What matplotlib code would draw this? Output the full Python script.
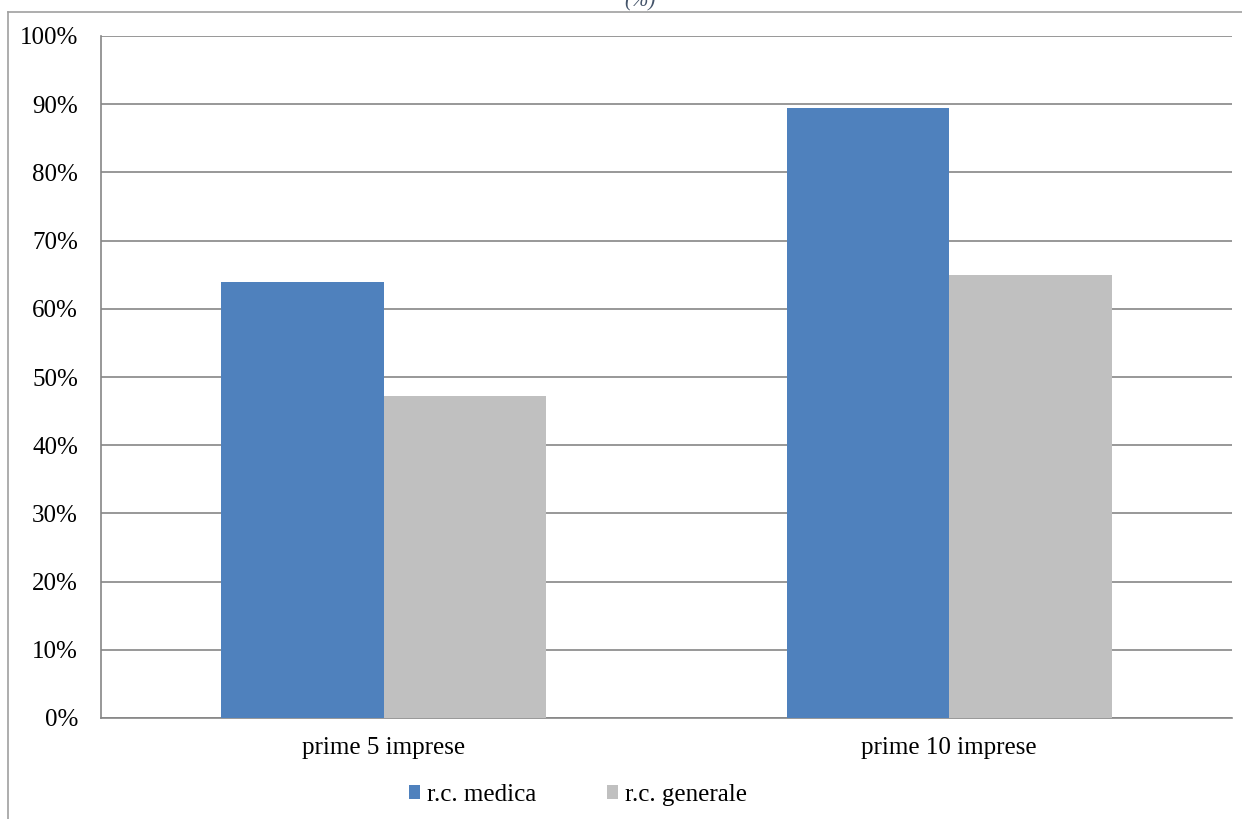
import matplotlib.pyplot as plt
import numpy as np

categories = ["prime 5 imprese", "prime 10 imprese"]
rc_medica = [64.0, 89.5]
rc_generale = [47.2, 65.0]
series_names = ["r.c. medica", "r.c. generale"]
yticks = list(range(0, 101, 10))

plt.rcParams['font.family'] = ['Liberation Serif', 'DejaVu Serif']

fig = plt.figure(figsize=(12.42, 8.19), dpi=100)
W, H = 1242, 819
ax = fig.add_axes([101 / W, 1 - 718 / H, (1232 - 101) / W, (718 - 36) / H])

x = np.arange(len(categories))
bw = 0.287
ax.bar(x - bw / 2, rc_medica, bw, color="#4F81BD", label=series_names[0], zorder=3)
ax.bar(x + bw / 2, rc_generale, bw, color="#C0C0C0", label=series_names[1], zorder=3)

ax.set_xlim(-0.5, len(categories) - 0.5)
ax.set_ylim(0, 100)
ax.set_yticks(yticks)
ax.set_yticklabels([f"{t}%" for t in yticks])
ax.set_xticks(x)
ax.set_xticklabels(categories)
ax.tick_params(axis="both", length=0, labelsize=18, colors="black")
ax.tick_params(axis="y", pad=16.5)
ax.tick_params(axis="x", pad=14)
ax.yaxis.grid(True, color="#868686", linewidth=1.2, zorder=0)
for s in ["top", "right"]:
    ax.spines[s].set_visible(False)
for s in ["left", "bottom"]:
    ax.spines[s].set_color("#868686")
    ax.spines[s].set_linewidth(1.2)

fig.legend(loc="center", bbox_to_anchor=(578 / W, 1 - 795 / H), ncol=2,
           frameon=False, fontsize=18, handlelength=0.45, handleheight=0.45,
           handletextpad=0.3, columnspacing=2.8)

# outer chart border and cut-off title
fig.add_artist(plt.Line2D([8 / W, 1], [1 - 12 / H, 1 - 12 / H], color="#A0A0A0", linewidth=1.2))
fig.add_artist(plt.Line2D([8 / W, 8 / W], [0, 1 - 12 / H], color="#A0A0A0", linewidth=1.2))
fig.text(640 / W, 1 - 2 / H, "(%)", ha="center", va="center", fontsize=15,
         style="italic", color="#44546A")

fig.savefig("out.png", dpi=100)
